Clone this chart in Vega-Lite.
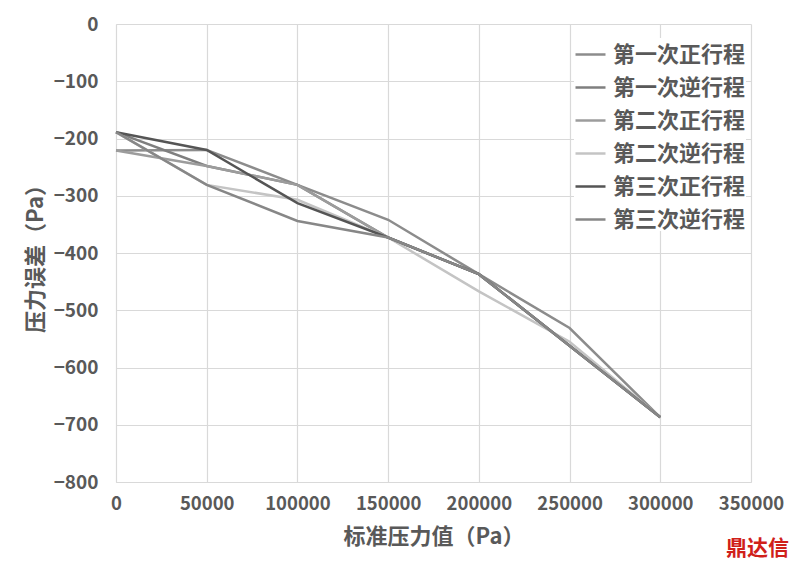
{
  "$schema": "https://vega.github.io/schema/vega-lite/v6.json",
  "width": 635,
  "height": 458,
  "autosize": {"type": "none"},
  "padding": {"left": 116, "top": 24, "right": 52, "bottom": 83},
  "background": "white",
  "config": {
    "font": "Noto Sans CJK SC",
    "view": {"stroke": null}
  },
  "title": {
    "text": "鼎达信",
    "orient": "bottom",
    "anchor": "end",
    "frame": "group",
    "color": "#d0201a",
    "fontSize": 21,
    "fontWeight": "bold",
    "font": "Noto Sans CJK SC",
    "dx": 38,
    "offset": -10
  },
  "data": {
    "values": [
      {"s": "第一次正行程", "x": 0, "y": -221},
      {"s": "第一次正行程", "x": 50000, "y": -220},
      {"s": "第一次正行程", "x": 100000, "y": -281},
      {"s": "第一次正行程", "x": 150000, "y": -342},
      {"s": "第一次正行程", "x": 200000, "y": -437},
      {"s": "第一次正行程", "x": 250000, "y": -531},
      {"s": "第一次正行程", "x": 300000, "y": -687},
      {"s": "第一次逆行程", "x": 0, "y": -189},
      {"s": "第一次逆行程", "x": 50000, "y": -248},
      {"s": "第一次逆行程", "x": 100000, "y": -281},
      {"s": "第一次逆行程", "x": 150000, "y": -373},
      {"s": "第一次逆行程", "x": 200000, "y": -437},
      {"s": "第一次逆行程", "x": 250000, "y": -562},
      {"s": "第一次逆行程", "x": 300000, "y": -687},
      {"s": "第二次正行程", "x": 0, "y": -221},
      {"s": "第二次正行程", "x": 50000, "y": -248},
      {"s": "第二次正行程", "x": 100000, "y": -281},
      {"s": "第二次正行程", "x": 150000, "y": -373},
      {"s": "第二次正行程", "x": 200000, "y": -437},
      {"s": "第二次正行程", "x": 250000, "y": -562},
      {"s": "第二次正行程", "x": 300000, "y": -687},
      {"s": "第二次逆行程", "x": 0, "y": -189},
      {"s": "第二次逆行程", "x": 50000, "y": -281},
      {"s": "第二次逆行程", "x": 100000, "y": -307},
      {"s": "第二次逆行程", "x": 150000, "y": -373},
      {"s": "第二次逆行程", "x": 200000, "y": -467},
      {"s": "第二次逆行程", "x": 250000, "y": -555},
      {"s": "第二次逆行程", "x": 300000, "y": -687},
      {"s": "第三次正行程", "x": 0, "y": -189},
      {"s": "第三次正行程", "x": 50000, "y": -220},
      {"s": "第三次正行程", "x": 100000, "y": -313},
      {"s": "第三次正行程", "x": 150000, "y": -373},
      {"s": "第三次正行程", "x": 200000, "y": -437},
      {"s": "第三次正行程", "x": 250000, "y": -562},
      {"s": "第三次正行程", "x": 300000, "y": -687},
      {"s": "第三次逆行程", "x": 0, "y": -189},
      {"s": "第三次逆行程", "x": 50000, "y": -281},
      {"s": "第三次逆行程", "x": 100000, "y": -344},
      {"s": "第三次逆行程", "x": 150000, "y": -373},
      {"s": "第三次逆行程", "x": 200000, "y": -437},
      {"s": "第三次逆行程", "x": 250000, "y": -562},
      {"s": "第三次逆行程", "x": 300000, "y": -687}
    ]
  },
  "mark": {"type": "line", "strokeWidth": 2.5},
  "encoding": {
    "x": {
      "field": "x",
      "type": "quantitative",
      "scale": {"domain": [0, 350000], "nice": false},
      "axis": {
        "values": [0, 50000, 100000, 150000, 200000, 250000, 300000, 350000],
        "format": "d",
        "title": "标准压力值（Pa）",
        "titleFontSize": 22,
        "titleFontWeight": "bold",
        "titleColor": "#595959",
        "titlePadding": 14,
        "labelFontSize": 18.5,
        "labelFontWeight": "bold",
        "labelColor": "#595959",
        "labelPadding": 12,
        "labelFlush": false,
        "labelOverlap": false,
        "ticks": false,
        "domain": true,
        "domainColor": "#d9d9d9",
        "gridColor": "#d9d9d9",
        "gridWidth": 1.2
      }
    },
    "y": {
      "field": "y",
      "type": "quantitative",
      "scale": {"domain": [-800, 0], "nice": false},
      "axis": {
        "values": [0, -100, -200, -300, -400, -500, -600, -700, -800],
        "title": "压力误差（Pa）",
        "titleFontSize": 22,
        "titleFontWeight": "bold",
        "titleColor": "#595959",
        "titlePadding": 6,
        "labelFontSize": 19,
        "labelFontWeight": "bold",
        "labelColor": "#595959",
        "labelPadding": 18,
        "ticks": false,
        "domain": true,
        "domainColor": "#d9d9d9",
        "gridColor": "#d9d9d9",
        "gridWidth": 1.2
      }
    },
    "color": {
      "field": "s",
      "type": "nominal",
      "scale": {
        "domain": ["第一次正行程", "第一次逆行程", "第二次正行程", "第二次逆行程", "第三次正行程", "第三次逆行程"],
        "range": ["#8c8c8c", "#7f7f7f", "#9c9c9c", "#c4c4c4", "#555555", "#878787"]
      },
      "legend": {
        "title": null,
        "orient": "none",
        "legendX": 458,
        "legendY": 14,
        "symbolType": "stroke",
        "symbolSize": 900,
        "symbolStrokeWidth": 2.5,
        "labelFontSize": 22,
        "labelFontWeight": "bold",
        "labelColor": "#595959",
        "labelOffset": 6,
        "rowPadding": 5,
        "fillColor": "white"
      }
    }
  }
}
